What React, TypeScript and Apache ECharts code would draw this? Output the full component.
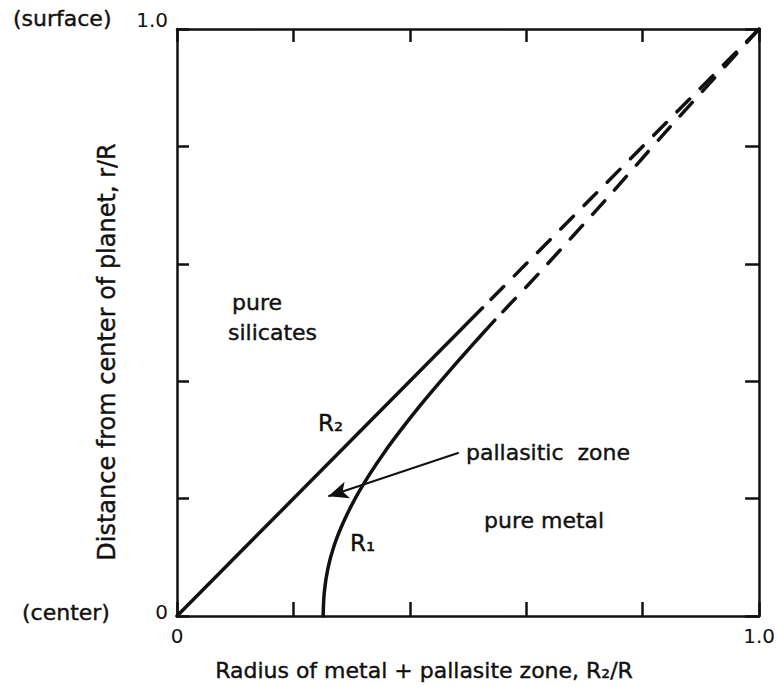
import React, { useEffect, useRef } from "react";
import * as echarts from "echarts";

// ---- data ----
const R2_SOLID: number[][] = [
  [0, 0],
  [0.525, 0.525],
];
const R2_DASHED: number[][] = [
  [0.525, 0.525],
  [1, 1],
];
const R1_SOLID: number[][] = [
  [0.251, 0],
  [0.253, 0.04],
  [0.259, 0.08],
  [0.27, 0.12],
  [0.286, 0.16],
  [0.306, 0.2],
  [0.33, 0.24],
  [0.357, 0.28],
  [0.387, 0.32],
  [0.419, 0.36],
  [0.453, 0.4],
  [0.488, 0.44],
  [0.524, 0.48],
  [0.546, 0.504],
];
const R1_DASHED: number[][] = [
  [0.546, 0.504],
  [0.62, 0.582],
  [0.74, 0.713],
  [0.838, 0.823],
  [1, 1],
];
const ARROW_FROM = [0.484, 0.278];
const ARROW_TO = [0.26, 0.204];
const X_TICK_LABELS: Record<string, string> = { "0": "0", "1": "1.0" };
const Y_TICK_LABELS: Record<string, string> = { "0": "0", "1": "1.0" };
const X_TITLE = "Radius of metal + pallasite zone, R\u2082/R";
const Y_TITLE = "Distance from center of planet, r/R";

const FONT = "DejaVu Sans";
const INK = "#111";

export default function App() {
  const ref = useRef<HTMLDivElement>(null);
  useEffect(() => {
    if (!ref.current) return;
    const chart = echarts.init(ref.current, undefined, { renderer: "svg" });
    const axisLine = { show: true, onZero: false, lineStyle: { color: INK, width: 2.5 } };
    const txt = (
      text: string,
      x: number,
      y: number,
      size: number,
      align: string = "left",
      rotation = 0
    ) => ({
      type: "text",
      x,
      y,
      rotation,
      silent: true,
      style: {
        text,
        fill: INK,
        font: `${size}px "${FONT}"`,
        textAlign: align,
        textVerticalAlign: "middle",
        stroke: INK,
        lineWidth: 0.4,
      },
    });
    chart.setOption({
      animation: false,
      backgroundColor: "#fff",
      grid: { left: 177, right: 16, top: 29, bottom: 71, containLabel: false },
      xAxis: [
        {
          type: "value",
          min: 0,
          max: 1,
          interval: 0.2,
          position: "bottom",
          axisLine,
          axisTick: { show: true, inside: true, length: 14, lineStyle: { color: INK, width: 2.5 } },
          axisLabel: {
            show: true,
            margin: 10,
            fontFamily: FONT,
            fontSize: 20,
            color: INK,
            formatter: (v: number) => X_TICK_LABELS[String(v)] ?? "",
          },
          splitLine: { show: false },
        },
        {
          type: "value",
          min: 0,
          max: 1,
          interval: 0.2,
          position: "top",
          axisLine,
          axisTick: { show: true, inside: true, length: 13, lineStyle: { color: INK, width: 2.5 } },
          axisLabel: { show: false },
          splitLine: { show: false },
        },
      ],
      yAxis: [
        {
          type: "value",
          min: 0,
          max: 1,
          interval: 0.2,
          position: "left",
          axisLine,
          axisTick: { show: true, inside: true, length: 12, lineStyle: { color: INK, width: 2.5 } },
          axisLabel: {
            show: true,
            margin: 9,
            fontFamily: FONT,
            fontSize: 20,
            color: INK,
            formatter: (v: number) => {
              const s = Y_TICK_LABELS[String(v)];
              if (!s) return "";
              return v === 1 ? `{t|${s}}` : `{b|${s}}`;
            },
            rich: {
              t: { fontFamily: FONT, fontSize: 20, color: INK, padding: [0, 0, 18, 0] },
              b: { fontFamily: FONT, fontSize: 20, color: INK, padding: [0, 0, 8, 0] },
            },
          },
          splitLine: { show: false },
        },
        {
          type: "value",
          min: 0,
          max: 1,
          interval: 0.2,
          position: "right",
          axisLine,
          axisTick: { show: true, inside: true, length: 14, lineStyle: { color: INK, width: 2.5 } },
          axisLabel: { show: false },
          splitLine: { show: false },
        },
      ],
      series: [
        {
          name: "R2",
          type: "line",
          data: R2_SOLID,
          showSymbol: false,
          symbol: "none",
          lineStyle: { color: INK, width: 3.5, cap: "round" },
          silent: true,
        },
        {
          name: "R2 dashed",
          type: "line",
          data: R2_DASHED,
          showSymbol: false,
          symbol: "none",
          lineStyle: { color: INK, width: 3.5, type: [18, 15], cap: "round", dashOffset: -12 },
          silent: true,
        },
        {
          name: "R1",
          type: "line",
          data: R1_SOLID,
          smooth: 0.3,
          showSymbol: false,
          symbol: "none",
          lineStyle: { color: INK, width: 3.5, cap: "round" },
          silent: true,
          markLine: {
            silent: true,
            symbol: ["none", "arrow"],
            symbolSize: [13, 20],
            label: { show: false },
            lineStyle: { color: INK, width: 2, type: "solid" },
            data: [[{ coord: ARROW_FROM }, { coord: ARROW_TO }]],
          },
        },
        {
          name: "R1 dashed",
          type: "line",
          data: R1_DASHED,
          smooth: 0.3,
          showSymbol: false,
          symbol: "none",
          lineStyle: { color: INK, width: 3.5, type: [18, 15], cap: "round", dashOffset: -12 },
          silent: true,
        },
      ],
      graphic: [
        txt("(surface)", 13, 18, 22),
        txt("(center)", 22, 612, 22),
        txt("pure", 232, 302, 22),
        txt("silicates", 228, 332, 22),
        txt("R\u2082", 318, 423, 23),
        txt("R\u2081", 350, 543, 23),
        txt("pallasitic  zone", 466, 452, 22),
        txt("pure metal", 484, 520, 22),
        txt(X_TITLE, 424, 670, 22, "center"),
        txt(Y_TITLE, 107, 352, 24, "center", Math.PI / 2),
      ],
    });
    return () => chart.dispose();
  }, []);
  return (
    <div
      ref={ref}
      style={{ position: "absolute", left: 0, top: 0, width: 778, height: 687, background: "#fff" }}
    />
  );
}
